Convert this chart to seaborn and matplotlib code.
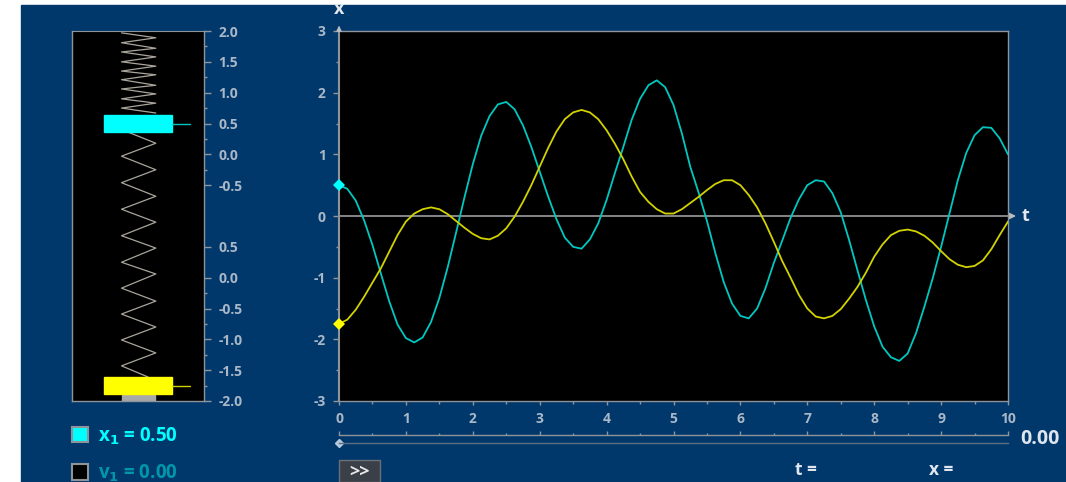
import matplotlib.pyplot as plt
import pandas as pd
import seaborn as sns
from matplotlib.patches import Rectangle

sns.set_theme(style="white")
plt.rcParams["font.family"] = ["Open Sans", "DejaVu Sans"]
plt.rcParams["axes.unicode_minus"] = False

FIG_W, FIG_H = 1066, 482
NAVY = "#00386c"
TICK_TEXT = "#a9b7c6"
LABEL_TEXT = "#dfe6ee"
AXIS_GRAY = "#8f949a"
CYAN = "#00ffff"
TEAL_LINE = "#00c8c0"
YELLOW = "#ffff00"
OLIVE_LINE = "#d2d200"
TICK_SIZE = 10

# read every eighth of a second off the picture
time_values = [
    0, 0.125, 0.25, 0.375, 0.5, 0.625, 0.75, 0.875, 1.0, 1.125, 1.25, 1.375, 1.5, 1.625,
    1.75, 1.875, 2.0, 2.125, 2.25, 2.375, 2.5, 2.625, 2.75, 2.875, 3.0, 3.125, 3.25, 3.375,
    3.5, 3.625, 3.75, 3.875, 4.0, 4.125, 4.25, 4.375, 4.5, 4.625, 4.75, 4.875, 5.0, 5.125,
    5.25, 5.375, 5.5, 5.625, 5.75, 5.875, 6.0, 6.125, 6.25, 6.375, 6.5, 6.625, 6.75, 6.875,
    7.0, 7.125, 7.25, 7.375, 7.5, 7.625, 7.75, 7.875, 8.0, 8.125, 8.25, 8.375, 8.5, 8.625,
    8.75, 8.875, 9.0, 9.125, 9.25, 9.375, 9.5, 9.625, 9.75, 9.875, 10.0,
]
x1_values = [
    0.5, 0.44, 0.25, -0.07, -0.47, -0.93, -1.38, -1.76, -1.98, -2.05, -1.97, -1.72, -1.33, -0.83,
    -0.27, 0.3, 0.84, 1.3, 1.62, 1.81, 1.85, 1.73, 1.47, 1.12, 0.72, 0.32, -0.05, -0.35,
    -0.5, -0.53, -0.38, -0.12, 0.26, 0.7, 1.12, 1.56, 1.9, 2.12, 2.2, 2.09, 1.8, 1.34,
    0.8, 0.38, -0.08, -0.6, -1.07, -1.42, -1.62, -1.66, -1.5, -1.17, -0.76, -0.4, -0.03, 0.27,
    0.5, 0.58, 0.56, 0.37, 0.06, -0.39, -0.88, -1.36, -1.79, -2.12, -2.29, -2.35, -2.23, -1.9,
    -1.47, -1.01, -0.5, 0.04, 0.58, 1.02, 1.31, 1.44, 1.43, 1.26, 1.0,
]
x2_values = [
    -1.75, -1.68, -1.52, -1.31, -1.08, -0.85, -0.58, -0.31, -0.09, 0.04, 0.11, 0.14, 0.11, 0.03,
    -0.08, -0.19, -0.29, -0.36, -0.38, -0.32, -0.2, -0.01, 0.23, 0.5, 0.8, 1.1, 1.37, 1.57,
    1.68, 1.72, 1.68, 1.57, 1.39, 1.17, 0.92, 0.64, 0.39, 0.23, 0.11, 0.04, 0.04, 0.11,
    0.21, 0.31, 0.42, 0.52, 0.58, 0.58, 0.5, 0.34, 0.14, -0.12, -0.42, -0.73, -1.0, -1.28,
    -1.5, -1.63, -1.66, -1.62, -1.51, -1.34, -1.15, -0.92, -0.66, -0.46, -0.31, -0.24, -0.22, -0.25,
    -0.32, -0.43, -0.57, -0.7, -0.79, -0.83, -0.81, -0.72, -0.54, -0.31, -0.09,
]

# spring zigzags, in the tube's own position scale
spring_top_y = [1.97, 1.89, 1.81, 1.72, 1.66, 1.58, 1.50, 1.43, 1.35, 1.29, 1.21, 1.12,
                1.06, 0.98, 0.90, 0.83, 0.75, 0.67]
spring_top_x = [-0.25, 0.27] * 9
spring_mid_y = [0.36, 0.18, -0.03, -0.25, -0.46, -0.68, -0.89, -1.10, -1.32, -1.52, -1.75,
                -1.94, -2.17, -2.38, -2.59, -2.80, -3.01, -3.22, -3.43, -3.61]
spring_mid_x = [-0.15] + [0.27, -0.25] * 9 + [0.15]

tube_ticks = [2.0, 1.5, 1.0, 0.5, 0.0, -0.5, -1.5, -2.0, -2.5, -3.0, -3.5, -4.0]
tube_labels = ["2.0", "1.5", "1.0", "0.5", "0.0", "-0.5", "0.5", "0.0", "-0.5", "-1.0", "-1.5", "-2.0"]
lower_scale_offset = -2.0

x1_start = 0.5
x2_start = -1.75


def _axes_at(fig, left, top, right, bottom):
    return fig.add_axes([left / FIG_W, 1 - bottom / FIG_H, (right - left) / FIG_W, (bottom - top) / FIG_H])


def _fig_text(fig, px, py, text, **kwargs):
    fig.text(px / FIG_W, 1 - py / FIG_H, text, **kwargs)


def _style_spines(ax):
    for spine in ax.spines.values():
        spine.set_color(AXIS_GRAY)
        spine.set_linewidth(1.0)


fig = plt.figure(figsize=(FIG_W / 100, FIG_H / 100), dpi=100, facecolor="white")
fig.add_artist(Rectangle((21 / FIG_W, 0), 1 - 21 / FIG_W, 1 - 5 / FIG_H,
                         transform=fig.transFigure, color=NAVY, zorder=-5))

# spring tube on the left
tube = _axes_at(fig, 72, 31, 204, 401)
tube.set_facecolor("black")
sns.lineplot(x=spring_top_x, y=spring_top_y, sort=False, estimator=None, color="#aaa59c",
             linewidth=0.9, ax=tube)
sns.lineplot(x=spring_mid_x, y=spring_mid_y, sort=False, estimator=None, color="#aaa59c",
             linewidth=0.9, ax=tube)
tube.set_xlim(-1, 1)
tube.set_ylim(-4, 2)
tube.add_patch(Rectangle((-0.25, -4), 0.5, 0.1, color="#a8a8a8", zorder=2))
for position, face, lead in [(x1_start, CYAN, TEAL_LINE), (x2_start + lower_scale_offset, YELLOW, OLIVE_LINE)]:
    tube.add_patch(Rectangle((-0.515, position - 0.14), 1.03, 0.28, color=face, zorder=3))
    tube.plot([0.515, 0.79], [position, position], color=lead, linewidth=1.0, zorder=3)
tube.yaxis.tick_right()
tube.set_yticks(tube_ticks, tube_labels, ha="left", fontsize=TICK_SIZE, fontweight="bold", color=TICK_TEXT)
tube.set_yticks([t - 0.25 for t in tube_ticks[:-1] if t not in (-0.5, -1.5)], minor=True)
tube.tick_params(axis="y", which="major", length=5, width=1, color=AXIS_GRAY, pad=5.5)
tube.tick_params(axis="y", which="minor", right=True, length=2.5, width=1, color=AXIS_GRAY)
tube.set_xticks([])
tube.set_xlabel("")
_style_spines(tube)
tube.spines["top"].set_linewidth(0.8)

# x(t) plot
ax = _axes_at(fig, 339, 31, 1008, 401)
ax.set_facecolor("black")
curves = pd.DataFrame({"t": time_values, "x1": x1_values, "x2": x2_values}).melt(
    id_vars="t", var_name="body", value_name="x"
)
sns.lineplot(data=curves, x="t", y="x", hue="body", palette={"x1": TEAL_LINE, "x2": OLIVE_LINE},
             estimator=None, errorbar=None, linewidth=1.3, legend=False, ax=ax, zorder=3)
ax.set_xlim(0, 10)
ax.set_ylim(-3, 3)
ax.set_xlabel("")
ax.set_ylabel("")
ax.set_xticks(range(0, 11))
ax.set_xticks([v + 0.5 for v in range(0, 10)], minor=True)
ax.set_yticks(range(-3, 4))
ax.set_yticks([v + 0.5 for v in range(-3, 3)], minor=True)
ax.tick_params(axis="x", which="major", bottom=True, length=3, width=1, color=AXIS_GRAY, pad=5,
               labelsize=TICK_SIZE, labelcolor=TICK_TEXT)
ax.tick_params(axis="x", which="minor", bottom=True, length=2, width=1, color=AXIS_GRAY)
ax.tick_params(axis="y", which="major", left=True, length=4.5, width=1, color=AXIS_GRAY, pad=5,
               labelsize=TICK_SIZE, labelcolor=TICK_TEXT)
ax.tick_params(axis="y", which="minor", left=True, length=2.5, width=1, color=AXIS_GRAY)
for label in ax.get_xticklabels() + ax.get_yticklabels():
    label.set_fontweight("bold")
_style_spines(ax)
ax.spines["left"].set_linewidth(1.5)

ax.annotate("", xy=(10.12, 0), xytext=(0, 0), annotation_clip=False, zorder=2,
            arrowprops=dict(arrowstyle="-|>,head_length=0.3,head_width=0.15", color="#b9bcc0",
                            linewidth=1.0, shrinkA=0, shrinkB=0))
ax.annotate("", xy=(0, 3.09), xytext=(0, 3), annotation_clip=False,
            arrowprops=dict(arrowstyle="-|>,head_length=0.25,head_width=0.12", color="#b9bcc0",
                            linewidth=1.0, shrinkA=0, shrinkB=0))
ax.plot([0], [x1_start], marker="D", markersize=6.5, markeredgewidth=0, color=CYAN, clip_on=False, zorder=5)
ax.plot([0], [x2_start], marker="D", markersize=6.5, markeredgewidth=0, color=YELLOW, clip_on=False, zorder=5)

# time slider under the plot
slider = _axes_at(fig, 339, 435, 1008, 443)
slider.patch.set_alpha(0)
slider.set_xlim(0, 10)
slider.set_ylim(0, 1)
slider.set_xticks(range(0, 11))
slider.set_xticks([v + 0.5 for v in range(0, 10)], minor=True)
slider.set_yticks([])
slider.tick_params(axis="x", which="major", top=True, bottom=False, labelbottom=False,
                   length=3, width=1, color=AXIS_GRAY)
slider.tick_params(axis="x", which="minor", top=True, bottom=False, length=1.5, width=1, color=AXIS_GRAY)
for side in ("left", "right"):
    slider.spines[side].set_visible(False)
_style_spines(slider)
slider.spines["bottom"].set_color("#5f6f80")
slider.plot([0], [0], marker="D", markersize=4, color="#b4c8dc", clip_on=False)

# labels around the panels
_fig_text(fig, 339, 9, "x", color="#e4e8ec", fontsize=13, fontweight="bold", ha="center", va="center")
_fig_text(fig, 1026, 216, "t", color="#e4e8ec", fontsize=13, fontweight="bold", ha="center", va="center")
_fig_text(fig, 1040, 439, "0.00", color=LABEL_TEXT, fontsize=14, fontweight="bold", ha="center", va="center")
_fig_text(fig, 806, 470, "t =", color=LABEL_TEXT, fontsize=12.5, fontweight="bold", ha="center", va="center")
_fig_text(fig, 941, 470, "x =", color=LABEL_TEXT, fontsize=12.5, fontweight="bold", ha="center", va="center")

# check boxes and readouts
fig.add_artist(Rectangle((72 / FIG_W, 1 - 442 / FIG_H), 16 / FIG_W, 15 / FIG_H, transform=fig.transFigure,
                         facecolor=CYAN, edgecolor="#8f949a", linewidth=1.5))
fig.add_artist(Rectangle((72 / FIG_W, 1 - 480 / FIG_H), 16 / FIG_W, 16 / FIG_H, transform=fig.transFigure,
                         facecolor="black", edgecolor="#8f949a", linewidth=1.5))
_fig_text(fig, 98, 436, r"x$_{\mathbf{1}}$ = 0.50", color=CYAN, fontsize=13.5, fontweight="bold", va="center")
_fig_text(fig, 98, 473, r"v$_{\mathbf{1}}$ = 0.00", color="#0098a8", fontsize=13.5, fontweight="bold", va="center")

# play button, cut off by the bottom edge
fig.add_artist(Rectangle((339 / FIG_W, 0), 41 / FIG_W, 22 / FIG_H, transform=fig.transFigure,
                         facecolor="#3a3f48", edgecolor="#6a7078", linewidth=1.0))
_fig_text(fig, 359, 472, ">>", color="#e8e8e8", fontsize=13, fontweight="bold", ha="center", va="center")

fig.savefig("out.png", dpi=100, facecolor="white")
plt.close(fig)
